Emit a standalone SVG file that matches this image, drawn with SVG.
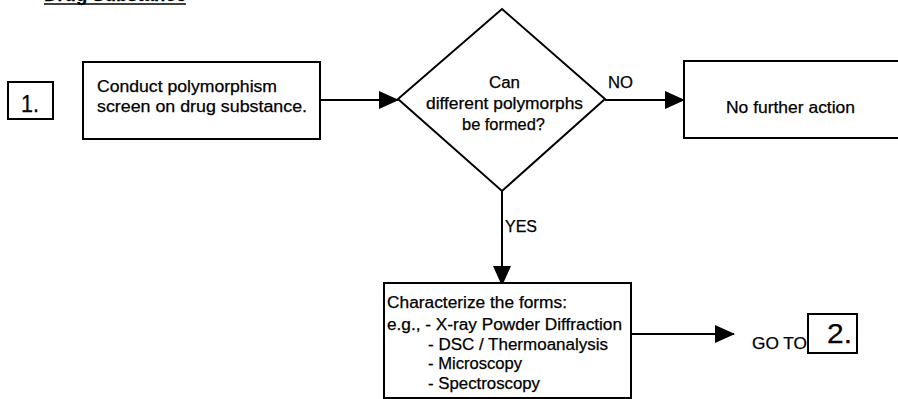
<svg xmlns="http://www.w3.org/2000/svg" width="898" height="399" viewBox="0 0 898 399">
<style>
  .box { fill: #ffffff; stroke: #000000; stroke-width: 2; }
  .conn { fill: none; stroke: #000000; stroke-width: 2; }
  text { font-family: "Liberation Sans", Arial, sans-serif; fill: #000000; stroke: #000000; stroke-width: 0.25; }
  .t { font-size: 16px; }
  .num { font-size: 24px; }
  .lbl { font-size: 16px; }
</style>
<defs>
  <marker id="arrow" markerUnits="userSpaceOnUse" markerWidth="20" markerHeight="18" viewBox="0 0 20 18" refX="19" refY="9" orient="auto">
    <path d="M0,0 L20,9 L0,18 Z" fill="#000000"/>
  </marker>
</defs>
<rect width="898" height="399" fill="#ffffff"/>

<g id="title">
  <text x="44" y="1" style="font-size:18px;font-weight:bold" textLength="142" lengthAdjust="spacingAndGlyphs">Drug Substance</text>
  <line x1="44" y1="4" x2="186" y2="4" stroke="#000000" stroke-width="1.5"/>
</g>

<g id="connectors">
  <line class="conn" x1="320" y1="100" x2="398" y2="100" marker-end="url(#arrow)"/>
  <line class="conn" x1="605" y1="100" x2="684" y2="100" marker-end="url(#arrow)"/>
  <line class="conn" x1="502" y1="191" x2="502" y2="285" marker-end="url(#arrow)"/>
  <line class="conn" x1="631" y1="334" x2="734" y2="334" marker-end="url(#arrow)"/>
  <text class="lbl" x="608" y="88" textLength="25" lengthAdjust="spacingAndGlyphs">NO</text>
  <text class="lbl" x="505" y="232" textLength="32" lengthAdjust="spacingAndGlyphs">YES</text>
</g>

<g id="step1">
  <rect class="box" x="8" y="82" width="45" height="37"/>
  <text class="num" x="21" y="112" textLength="18" lengthAdjust="spacingAndGlyphs">1.</text>
</g>

<g id="screen">
  <rect class="box" x="83" y="62" width="237" height="77"/>
  <text class="t" x="97" y="92" textLength="180" lengthAdjust="spacingAndGlyphs">Conduct polymorphism</text>
  <text class="t" x="97" y="112" textLength="210" lengthAdjust="spacingAndGlyphs">screen on drug substance.</text>
</g>

<g id="decision">
  <polygon class="box" points="502,9 605,99 502,191 398,99"/>
  <text class="t" x="504.5" y="88" text-anchor="middle" textLength="31" lengthAdjust="spacingAndGlyphs">Can</text>
  <text class="t" x="504.5" y="109" text-anchor="middle" textLength="157" lengthAdjust="spacingAndGlyphs">different polymorphs</text>
  <text class="t" x="503.5" y="130" text-anchor="middle" textLength="83" lengthAdjust="spacingAndGlyphs">be formed?</text>
</g>

<g id="no-action">
  <rect class="box" x="684" y="61" width="230" height="77"/>
  <text class="t" x="726" y="113" textLength="129" lengthAdjust="spacingAndGlyphs">No further action</text>
</g>

<g id="characterize">
  <rect class="box" x="384" y="283" width="247" height="115"/>
  <text class="t" x="387" y="308" textLength="180" lengthAdjust="spacingAndGlyphs">Characterize the forms:</text>
  <text class="t" x="387" y="330" textLength="235" lengthAdjust="spacingAndGlyphs">e.g., - X-ray Powder Diffraction</text>
  <text class="t" x="428" y="350" textLength="180" lengthAdjust="spacingAndGlyphs">- DSC / Thermoanalysis</text>
  <text class="t" x="428" y="369" textLength="94" lengthAdjust="spacingAndGlyphs">- Microscopy</text>
  <text class="t" x="428" y="389" textLength="112" lengthAdjust="spacingAndGlyphs">- Spectroscopy</text>
</g>

<g id="goto">
  <text class="lbl" x="752" y="349" textLength="55" lengthAdjust="spacingAndGlyphs">GO TO</text>
  <rect class="box" x="808" y="314" width="49" height="39"/>
  <text x="827" y="343" style="font-size:27px" textLength="25" lengthAdjust="spacingAndGlyphs">2.</text>
</g>
</svg>
